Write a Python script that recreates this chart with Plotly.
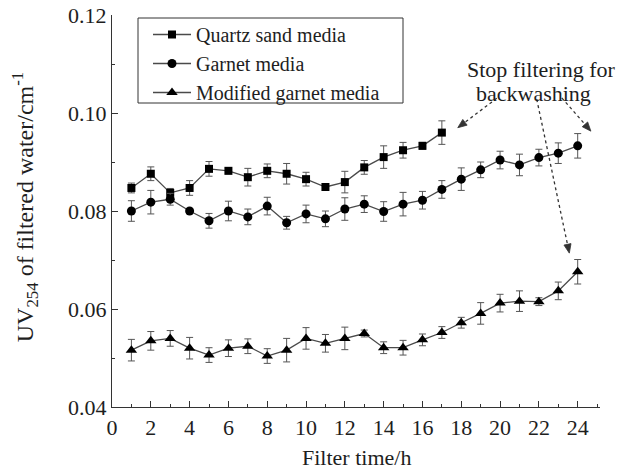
import math
import plotly.graph_objects as go

hours_quartz = list(range(1, 18))
hours_all = list(range(1, 25))

quartz = [0.0847, 0.0876, 0.0837, 0.0847, 0.0886, 0.0882, 0.0869, 0.0882, 0.0876,
          0.0865, 0.0849, 0.0859, 0.0889, 0.0910, 0.0924, 0.0933, 0.0960]
quartz_err = [0.0010, 0.0014, 0.0009, 0.0015, 0.0015, 0.0006, 0.0018, 0.0014, 0.0021,
              0.0014, 0.0007, 0.0022, 0.0014, 0.0023, 0.0016, 0.0007, 0.0024]

garnet = [0.0800, 0.0818, 0.0824, 0.0800, 0.0780, 0.0800, 0.0788, 0.0810, 0.0776,
          0.0794, 0.0784, 0.0804, 0.0814, 0.0799, 0.0814, 0.0822, 0.0844, 0.0865,
          0.0884, 0.0904, 0.0894, 0.0909, 0.0918, 0.0933]
garnet_err = [0.0021, 0.0024, 0.0012, 0.0005, 0.0015, 0.0020, 0.0016, 0.0018, 0.0013,
              0.0018, 0.0016, 0.0023, 0.0017, 0.0020, 0.0024, 0.0018, 0.0018, 0.0023,
              0.0016, 0.0018, 0.0022, 0.0017, 0.0021, 0.0025]

modified = [0.0516, 0.0535, 0.0540, 0.0520, 0.0506, 0.0520, 0.0524, 0.0504, 0.0516,
            0.0540, 0.0530, 0.0540, 0.0550, 0.0521, 0.0521, 0.0537, 0.0552, 0.0572,
            0.0591, 0.0612, 0.0616, 0.0615, 0.0637, 0.0676]
modified_err = [0.0022, 0.0019, 0.0016, 0.0022, 0.0015, 0.0017, 0.0015, 0.0015, 0.0024,
                0.0022, 0.0018, 0.0023, 0.0007, 0.0012, 0.0015, 0.0012, 0.0012, 0.0011,
                0.0022, 0.0018, 0.0021, 0.0008, 0.0018, 0.0025]

series_names = ["Quartz sand media", "Garnet media", "Modified garnet media"]
x_ticks = list(range(0, 25, 2))
y_ticks = [0.04, 0.06, 0.08, 0.10, 0.12]

FONT = "Liberation Serif, Times New Roman, serif"
FS = 22
TXT = "#1e1e1e"
LINE = "#4a4a4a"
ERR = "#555555"
AX = "#333333"

X_RANGE = [0, 25.15]
Y_RANGE = [0.04, 0.12]
W, H = 636, 470
M = dict(l=112, r=36, t=15, b=63)
plot_w = W - M["l"] - M["r"]
plot_h = H - M["t"] - M["b"]
px_per_x = plot_w / (X_RANGE[1] - X_RANGE[0])
px_per_y = plot_h / (Y_RANGE[1] - Y_RANGE[0])

fig = go.Figure()
specs = [
    (hours_quartz, quartz, quartz_err, "square", 8),
    (hours_all, garnet, garnet_err, "circle", 9),
    (hours_all, modified, modified_err, "triangle-up", 10),
]
for name, (xs, ys, es, sym, sz) in zip(series_names, specs):
    fig.add_trace(go.Scatter(
        x=xs, y=ys, name=name, mode="lines+markers",
        line=dict(color=LINE, width=1.3),
        marker=dict(symbol=sym, size=sz, color="black"),
        error_y=dict(type="data", array=es, visible=True, color=ERR,
                     thickness=1, width=3.5),
    ))

# dotted call-out arrows: (start, tip) in data units
arrows = [
    ((19.83, 0.1030), (17.82, 0.0970)),
    ((21.89, 0.1028), (23.57, 0.0714)),
    ((23.18, 0.1031), (24.68, 0.0963)),
]
HEAD_L, HEAD_W = 9.0, 3.6
for (sx, sy), (tx, ty) in arrows:
    dxp = (tx - sx) * px_per_x
    dyp = -(ty - sy) * px_per_y
    n = math.hypot(dxp, dyp)
    ux, uy = dxp / n, dyp / n
    bxp, byp = -HEAD_L * ux, -HEAD_L * uy
    nx, ny = -uy, ux

    def to_data(ox, oy):
        return tx + ox / px_per_x, ty - oy / px_per_y

    bx, by = to_data(bxp, byp)
    p1 = to_data(bxp + HEAD_W * nx, byp + HEAD_W * ny)
    p2 = to_data(bxp - HEAD_W * nx, byp - HEAD_W * ny)
    fig.add_shape(type="line", x0=sx, y0=sy, x1=bx, y1=by, xref="x", yref="y",
                  line=dict(color=AX, width=1.3, dash="dot"))
    fig.add_shape(type="path", xref="x", yref="y",
                  path=f"M {tx} {ty} L {p1[0]} {p1[1]} L {p2[0]} {p2[1]} Z",
                  fillcolor=AX, line=dict(color=AX, width=0.8))

fig.add_annotation(x=22.16, y=0.1088, xref="x", yref="y",
                   text="Stop filtering for", showarrow=False,
                   font=dict(family=FONT, size=FS, color=TXT),
                   xanchor="center", yanchor="middle")
fig.add_annotation(x=21.70, y=0.1039, xref="x", yref="y",
                   text="backwashing", showarrow=False,
                   font=dict(family=FONT, size=FS, color=TXT),
                   xanchor="center", yanchor="middle")

fig.add_annotation(x=-0.178, y=0.51, xref="paper", yref="paper", textangle=-90,
                   text="UV<sub>254</sub> of filtered water/cm<sup>-1</sup>",
                   showarrow=False, font=dict(family=FONT, size=24, color=TXT),
                   xanchor="center", yanchor="middle")
fig.add_annotation(x=0.5, y=-0.128, xref="paper", yref="paper",
                   text="Filter time/h", showarrow=False,
                   font=dict(family=FONT, size=FS, color=TXT),
                   xanchor="center", yanchor="middle")

# legend frame
fig.add_shape(type="rect", xref="paper", yref="paper",
              x0=(138 - M["l"]) / plot_w, x1=(403 - M["l"]) / plot_w,
              y0=(H - M["b"] - 103) / plot_h, y1=(H - M["b"] - 18) / plot_h,
              line=dict(color=AX, width=1), fillcolor="rgba(0,0,0,0)")

fig.update_xaxes(range=X_RANGE, tickvals=x_ticks, ticks="inside", ticklen=6,
                 tickwidth=1.2, tickcolor=AX, showline=True, linecolor=AX,
                 linewidth=1.3, showgrid=False, zeroline=False,
                 minor=dict(dtick=1, tick0=0, ticks="inside", ticklen=3,
                            tickcolor=AX, showgrid=False),
                 tickfont=dict(family=FONT, size=FS, color=TXT))
fig.update_yaxes(range=Y_RANGE, tickvals=y_ticks, tickformat=".2f",
                 ticks="inside", ticklen=6, tickwidth=1.2, tickcolor=AX,
                 showline=True, linecolor=AX, linewidth=1.3,
                 showgrid=False, zeroline=False,
                 minor=dict(dtick=0.01, tick0=0.04, ticks="inside", ticklen=3,
                            tickcolor=AX, showgrid=False),
                 tickfont=dict(family=FONT, size=FS, color=TXT))

fig.update_layout(
    width=W, height=H,
    margin=dict(M, autoexpand=False),
    plot_bgcolor="white", paper_bgcolor="white",
    font=dict(family=FONT, size=FS, color=TXT),
    legend=dict(xref="container", yref="container",
                x=148 / W, y=1 - 15 / H, xanchor="left", yanchor="top",
                borderwidth=0, bgcolor="rgba(255,255,255,0)",
                font=dict(family=FONT, size=20, color=TXT),
                tracegroupgap=0, itemwidth=38),
    showlegend=True,
)

fig.write_html("out.html")
